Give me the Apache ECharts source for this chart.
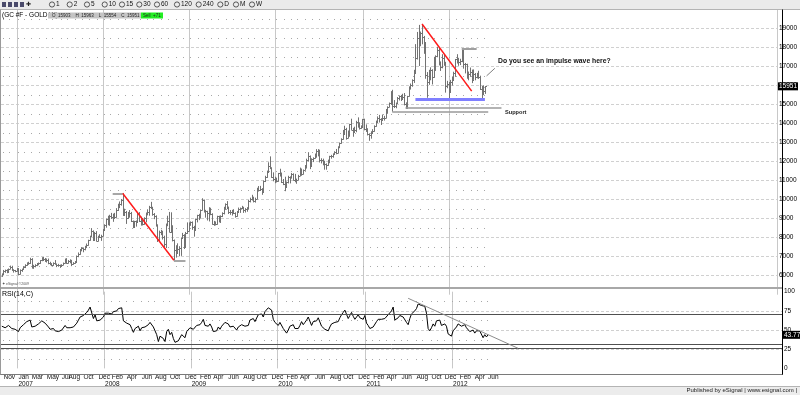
<!DOCTYPE html>
<html><head><meta charset="utf-8">
<script src="https://cdn.jsdelivr.net/npm/echarts@6/dist/echarts.min.js"></script>
<style>html,body{margin:0;padding:0;background:#fff}#c{width:800px;height:395px}</style>
</head><body><div id="c"></div>
<script>
// ---- weekly axis ----
const startDate = '2006-10-27';
const weekCount = 469;
const monthNames = ['Jan','Feb','Mar','Apr','May','Jun','Jul','Aug','Sep','Oct','Nov','Dec'];
const labelMonths = ['2006-11','2007-01','2007-03','2007-05','2007-07','2007-08','2007-10','2007-12',
 '2008-02','2008-04','2008-06','2008-08','2008-10','2008-12','2009-02','2009-04','2009-06','2009-08','2009-10','2009-12',
 '2010-02','2010-04','2010-06','2010-08','2010-10','2010-12','2011-02','2011-04','2011-06','2011-08','2011-10','2011-12',
 '2012-02','2012-04','2012-06'];
const yearLabels = ['2007','2008','2009','2010','2011','2012'];
const priceDotLevels = [6500,7500,8500,9500,10500,11500,12500,13500,14500,15500,16500,17500,18500,19500];
const rsiDotLevels = [87.5,62.5,37.5,12.5];

// ---- GC #F weekly OHLC (price x10 as shown on the axis) ----
const opens = [
5960,6080,6270,6300,6210,6360,6480,6300,6280,6240,
6360,6090,6280,6330,6480,6560,6680,6680,6860,6460,
6530,6560,6640,6660,6800,6940,6900,6790,6850,6680,
6600,6560,6690,6620,6540,6550,6500,6580,6670,6860,
6660,6750,6800,6620,6680,6730,7030,7150,7370,7450,
7390,7520,7630,7860,8070,8350,7860,8260,7840,8010,
8050,8100,8400,8660,8960,8800,9160,9100,9220,9080,
9460,9750,9750,10000,9200,9350,9050,9250,9300,8860,
8550,8850,8800,9300,8890,9000,8700,9050,9300,9350,
9620,9550,9250,9150,8650,7850,8300,8350,8050,7650,
8650,8850,8300,8600,7850,7350,7200,7400,7450,8000,
8150,7520,8250,8350,8700,8800,8550,8400,8980,9200,
9150,9450,10000,9400,9400,9300,9550,9250,8700,8800,
8700,9120,8850,9150,9300,9580,9780,9600,9350,9350,
9400,9300,9120,9370,9500,9550,9580,9460,9520,9550,
9950,10050,10100,9900,10040,10510,10520,10570,10400,10960,
11180,11460,11760,11660,11200,11100,11050,10960,11380,11300,
10920,10820,10650,10920,11200,11180,11340,11020,11040,11050,
11250,11600,11360,11550,11800,12100,12280,11770,12120,12180,
12280,12570,12570,12080,12100,11900,11880,11810,12050,12280,
12280,12370,12480,12450,12750,12980,13180,13460,13720,13260,
13590,13960,13680,13530,13630,14060,13850,13770,13800,14210,
13690,13610,13420,13380,13490,13600,13880,14100,14290,14210,
14190,14290,14290,14740,14860,15050,15560,14910,14920,15090,
15360,15420,15300,15400,15000,14830,15420,15930,16010,16280,
16630,17430,18500,18290,18760,18560,18120,16570,16200,16360,
16830,16420,17460,17550,17880,17240,16970,17460,17120,15980,
16060,15660,16170,16310,16640,17390,17250,17250,17260,17770,
17100,17120,16580,16620,16690,16310,16590,16420,16640,16450,
15800,15920,15903];
const highs = [
6120,6300,6320,6340,6380,6530,6520,6340,6300,6400,
6400,6330,6370,6500,6600,6700,6730,6940,6920,6570,
6600,6660,6690,6820,6970,6980,6930,6900,6900,6730,
6660,6700,6820,6640,6620,6580,6600,6690,6900,6920,
6820,6860,6830,6710,6770,7060,7220,7400,7500,7480,
7570,7690,7890,8100,8500,8380,8300,8340,8100,8180,
8150,8450,8700,9000,9150,9200,9300,9260,9300,9550,
9780,9900,10030,10330,9520,9400,9350,9450,9350,8900,
8880,8900,9350,9340,9100,9030,9070,9320,9460,9670,
9880,9620,9290,9170,8700,8370,8410,8360,8100,8740,
9150,9350,9330,8650,7900,7600,7700,7550,8000,8250,
8180,8300,8800,8800,8850,8850,8620,9000,9200,9250,
9480,10070,10000,9460,9410,9600,9570,9280,8880,8850,
9150,9150,9170,9330,9620,9800,9920,9630,9450,9460,
9480,9330,9400,9580,9580,9670,9620,9550,9600,9980,
10100,10250,10150,10100,10620,10710,10720,10600,11000,11250,
11520,11960,12270,11700,11430,11200,11150,11400,11620,11420,
11080,11200,10950,11250,11220,11400,11380,11350,11100,11300,
11680,11630,11580,11810,12150,12490,12320,12170,12220,12420,
12650,12650,12620,12170,12150,12040,11900,12100,12300,12350,
12430,12540,12660,12800,13000,13220,13660,13880,13770,13630,
13980,14250,13770,13830,14140,14320,14060,13900,14240,14250,
13950,13750,13480,13590,13700,13900,14150,14370,14450,14280,
14470,14400,14760,14900,15100,15700,15770,15230,15100,15390,
15470,15500,15560,15600,15110,15450,15950,16100,16320,16820,
18170,18810,19180,18830,19230,18600,18280,16700,16820,16950,
16850,17500,17580,18030,17990,17260,17640,17630,17240,16240,
16180,16290,16470,16720,17390,17640,17450,17400,17900,17920,
17180,17140,16730,16940,16830,16840,16650,16660,16770,16510,
15970,16000,15963];
const lows = [
5940,6050,6150,6130,6190,6340,6270,6160,6180,6220,
6030,6060,6200,6300,6400,6520,6570,6620,6370,6360,
6440,6500,6550,6620,6760,6770,6740,6690,6600,6550,
6500,6520,6600,6450,6470,6410,6470,6550,6640,6620,
6640,6650,6500,6580,6630,6700,6970,7100,7280,7230,
7330,7450,7580,7840,8050,7820,7830,7800,7800,7980,
7830,8080,8350,8520,8650,8620,8980,8830,8980,9050,
9400,9550,9680,9150,9140,8720,8980,9050,8820,8500,
8520,8580,8780,8820,8630,8640,8680,8800,9170,9150,
9500,9150,8970,8580,7770,7820,8130,7900,7400,7450,
8600,8280,8250,7800,6810,6950,7150,7020,7040,7950,
7400,7500,8200,8330,8620,8410,8050,8350,8800,8920,
9000,9430,9320,9050,8900,8850,9180,8680,8620,8640,
8680,8800,8770,9080,9220,9460,9500,9240,9200,9160,
9240,9050,9100,9300,9300,9500,9300,9320,9360,9500,
9850,9950,9850,9840,10020,10420,10450,10250,10400,10920,
11140,11400,11600,11140,10960,10860,10900,10940,11210,10870,
10760,10440,10620,10850,10850,11100,11000,10910,10830,11030,
11240,11250,11320,11530,11630,12000,11600,11750,11970,12150,
12200,12270,11950,11900,11800,11570,11570,11770,11910,12150,
12200,12360,12380,12430,12700,12940,13150,13430,13150,13220,
13300,13660,13300,13500,13540,13780,13680,13720,13770,13640,
13570,13370,13090,13200,13450,13570,13830,14050,14050,13920,
14150,14150,14270,14510,14850,14980,14620,14810,14800,15080,
15210,15180,15240,14950,14780,14820,15410,15780,15930,16130,
16600,17360,17020,18060,18160,17660,16350,15350,16030,16270,
16050,16400,16760,17480,17050,16760,16900,17030,15620,15850,
15230,15650,15990,16280,16450,17150,17030,17070,17220,16880,
16630,16350,16270,16450,16120,16290,16270,16370,16340,15760,
15270,15490,15554];
const closes = [
6080,6270,6300,6210,6360,6480,6300,6280,6240,6360,
6090,6280,6330,6480,6560,6680,6680,6860,6460,6530,
6560,6640,6660,6800,6940,6900,6790,6850,6680,6600,
6560,6690,6620,6540,6550,6500,6580,6670,6860,6660,
6750,6800,6620,6680,6730,7030,7150,7370,7450,7390,
7520,7630,7860,8070,8350,7860,8260,7840,8010,8050,
8100,8400,8660,8960,8800,9160,9100,9220,9080,9460,
9750,9750,10000,9200,9350,9050,9250,9300,8860,8550,
8850,8800,9300,8890,9000,8700,9050,9300,9350,9620,
9550,9250,9150,8650,7850,8300,8350,8050,7650,8650,
8850,8300,8600,7850,7350,7200,7400,7450,8000,8150,
7520,8250,8350,8700,8800,8550,8400,8980,9200,9150,
9450,10000,9400,9400,9300,9550,9250,8700,8800,8700,
9120,8850,9150,9300,9580,9780,9600,9350,9350,9400,
9300,9120,9370,9500,9550,9580,9460,9520,9550,9950,
10050,10100,9900,10040,10510,10520,10570,10400,10960,11180,
11460,11760,11660,11200,11100,11050,10960,11380,11300,10920,
10820,10650,10920,11200,11180,11340,11020,11040,11050,11250,
11600,11360,11550,11800,12100,12280,11770,12120,12180,12280,
12570,12570,12080,12100,11900,11880,11810,12050,12280,12280,
12370,12480,12450,12750,12980,13180,13460,13720,13260,13590,
13960,13680,13530,13630,14060,13850,13770,13800,14210,13690,
13610,13420,13380,13490,13600,13880,14100,14290,14210,14190,
14290,14290,14740,14860,15050,15560,14910,14920,15090,15360,
15420,15300,15400,15000,14830,15420,15930,16010,16280,16630,
17430,18500,18290,18760,18560,18120,16570,16200,16360,16830,
16420,17460,17550,17880,17240,16970,17460,17120,15980,16060,
15660,16170,16310,16640,17390,17250,17250,17260,17770,17100,
17120,16580,16620,16690,16310,16590,16420,16640,16450,15800,
15920,15720,15951];

// ---- RSI(14,C) weekly ----
const rsi = [
55,54,53,52,56,57,52,52,51,50,
48,53,54,57,59,61,62,63,54,53,
55,56,58,60,62,62,59,57,54,51,
50,52,49,48,48,47,50,52,56,53,
55,53,52,54,56,59,63,67,68,69,
70,73,76,80,81,65,70,62,62,63,
63,67,72,74,72,74,71,74,72,75,
78,78,79,62,60,59,59,57,52,47,
52,53,55,49,53,51,54,56,57,60,
58,54,52,44,35,42,43,39,35,48,
51,44,47,39,34,33,36,37,44,46,
40,48,50,53,54,51,50,56,58,57,
60,64,56,56,55,58,54,48,50,49,
54,51,55,57,60,62,58,54,54,55,
53,50,54,56,57,57,55,56,56,63,
64,65,61,63,70,70,71,67,74,76,
79,81,76,64,60,58,56,60,58,52,
50,46,50,55,54,57,52,52,52,56,
61,57,60,63,67,68,56,61,62,62,
66,66,55,55,51,50,49,54,58,58,
60,62,61,66,70,73,76,78,65,69,
73,68,64,65,70,66,64,64,69,59,
56,52,51,54,56,61,64,66,64,63,
65,65,70,72,75,80,63,63,66,69,
70,67,68,60,57,65,71,72,75,78,
84,84,82,82,81,72,52,49,53,58,
55,62,62,63,56,54,58,55,45,46,
42,49,51,54,58,56,55,55,57,53,
53,48,49,50,46,49,47,49,47,40,
44,41,43.77];

const lastPrice = 15951;
const lastRsi = 43.77;
const quote = {O:'15903', H:'15963', L:'15554', C:'15951', chg:'+71'};

// ---- build axis helpers ----
const categories = [];
const d0 = Date.parse(startDate + 'T00:00:00Z');
for (let i = 0; i < weekCount; i++) categories.push(new Date(d0 + i * 7 * 864e5).toISOString().slice(0, 10));
const monthLabelAt = {};
labelMonths.forEach(m => { const k = categories.findIndex(c => c.startsWith(m)); if (k >= 0) monthLabelAt[k] = monthNames[+m.slice(5, 7) - 1]; });
const yearLabelAt = {};
yearLabels.forEach(y => { const k = categories.findIndex(c => c.startsWith(y)); if (k >= 0) yearLabelAt[k] = y; });
// first week of each month over the data span (for the dotted minor grid)
const monthStarts = [];
for (let i = 1; i < opens.length; i++) if (categories[i].slice(5, 7) !== categories[i - 1].slice(5, 7)) monthStarts.push(i);
const priceDots = [], rsiDots = [];
monthStarts.forEach(k => { priceDotLevels.forEach(v => priceDots.push([k, v])); rsiDotLevels.forEach(v => rsiDots.push([k, v])); });

const ohlc = opens.map((o, i) => [i, o, highs[i], lows[i], closes[i]]);
const FONT = "'Liberation Sans Narrow','Arial Narrow','Liberation Sans',Arial,sans-serif";

function renderOHLC(params, api) {
  const i = api.value(0);
  const pH = api.coord([i, api.value(2)]);
  const pL = api.coord([i, api.value(3)]);
  const pO = api.coord([i, api.value(1)]);
  const pC = api.coord([i, api.value(4)]);
  const x = Math.round(pH[0]) + 0.5;
  const st = {stroke: '#727272', lineWidth: 1};
  return {type: 'group', children: [
    {type: 'line', shape: {x1: x, y1: pH[1], x2: x, y2: pL[1]}, style: st},
    {type: 'line', shape: {x1: x - 1, y1: Math.round(pO[1]) + 0.5, x2: x, y2: Math.round(pO[1]) + 0.5}, style: st},
    {type: 'line', shape: {x1: x, y1: Math.round(pC[1]) + 0.5, x2: x + 1.5, y2: Math.round(pC[1]) + 0.5}, style: st}
  ]};
}
function renderDot(params, api) {
  const p = api.coord([api.value(0), api.value(1)]);
  const bw = api.size([1, 0])[0];
  return {type: 'rect', shape: {x: Math.round(p[0] - bw / 2), y: Math.round(p[1]), width: 1, height: 1}, style: {fill: '#a8a8a8'}};
}

const yearSplit = {show: true, interval: (i) => (i in yearLabelAt), lineStyle: {color: '#c8c8c8', width: 1}};
const axLbl = {fontFamily: FONT, fontSize: 6.5, color: '#000', formatter: (v) => String(v)};
const seg = (a, b, style) => [{coord: a, lineStyle: style}, {coord: b}];
const hidden = 'rgba(0,0,0,0)';

const option = {
  animation: false,
  textStyle: {fontFamily: FONT},
  grid: [
    {left: 1, top: 9.3, width: 781, height: 285.4},
    {left: 1, top: 291.7, width: 781, height: 76.7}
  ],
  xAxis: [
    {type: 'category', gridIndex: 0, data: categories, axisLine: {show: false}, axisTick: {show: false}, axisLabel: {show: false}, splitLine: yearSplit},
    {type: 'category', gridIndex: 1, data: categories, axisLine: {show: false}, axisTick: {show: false},
     axisLabel: {interval: (i) => (i in monthLabelAt), formatter: (v, i) => monthLabelAt[i] || '', align: 'left', margin: 5, fontFamily: FONT, fontSize: 6.5, color: '#111'},
     splitLine: yearSplit},
    {type: 'category', gridIndex: 1, data: categories, position: 'bottom', axisLine: {show: false}, axisTick: {show: false},
     axisLabel: {interval: (i) => (i in yearLabelAt), formatter: (v, i) => yearLabelAt[i] || '', align: 'left', margin: 12, fontFamily: FONT, fontSize: 6.5, color: '#111'},
     splitLine: {show: false}}
  ],
  yAxis: [
    {type: 'value', gridIndex: 0, position: 'right', min: 5000, max: 20000, interval: 1000,
     axisLine: {show: false}, axisTick: {show: false},
     axisLabel: Object.assign({margin: 2, showMinLabel: false, showMaxLabel: false}, axLbl),
     splitLine: {show: true, showMinLine: false, showMaxLine: false, lineStyle: {color: '#d0d0d0', type: [3, 2]}}},
    {type: 'value', gridIndex: 1, position: 'right', min: 0, max: 100, interval: 25,
     axisLine: {show: false}, axisTick: {show: false},
     axisLabel: Object.assign({margin: 2}, axLbl),
     splitLine: {show: true, showMinLine: false, showMaxLine: false, lineStyle: {color: '#d0d0d0', type: [3, 2]}}}
  ],
  series: [
    {type: 'custom', name: 'dots', xAxisIndex: 0, yAxisIndex: 0, data: priceDots, encode: {x: 0, y: 1}, renderItem: renderDot, silent: true, z: 1},
    {type: 'custom', name: 'dotsRsi', xAxisIndex: 1, yAxisIndex: 1, data: rsiDots, encode: {x: 0, y: 1}, renderItem: renderDot, silent: true, z: 1},
    {type: 'custom', name: 'GC', xAxisIndex: 0, yAxisIndex: 0, data: ohlc, encode: {x: 0, y: [1, 2, 3, 4]},
     renderItem: renderOHLC, silent: true, clip: false, z: 3,
     markLine: {silent: true, symbol: ['none', 'none'], animation: false, label: {show: false},
       data: [
         seg([73, 10330], [104, 6810], {color: '#ff1a1a', width: 1.5, type: 'solid'}),
         seg([67, 10330], [73, 10330], {color: '#8a8a8a', width: 1.5, type: 'solid'}),
         seg([104, 6810], [111, 6810], {color: '#8a8a8a', width: 1.5, type: 'solid'}),
         seg([254, 19230], [284, 15700], {color: '#ff1a1a', width: 1.5, type: 'solid'}),
         seg([250, 15270], [292, 15270], {color: '#7f7fff', width: 3, type: 'solid'}),
         seg([278, 17920], [287, 17920], {color: '#a0a0a0', width: 2, type: 'solid'}),
         seg([244, 14800], [302, 14800], {color: '#9a9a9a', width: 1.5, type: 'solid'}),
         seg([236, 14620], [294, 14620], {color: '#9a9a9a', width: 1.5, type: 'solid'}),
         seg([293, 16500], [298, 16900], {color: '#808080', width: 1, type: 'solid'}),
         {yAxis: lastPrice, lineStyle: {color: hidden, width: 1},
          label: {show: true, position: 'end', distance: 1, formatter: String(lastPrice), color: '#fff', backgroundColor: '#000',
                  fontFamily: FONT, fontSize: 6.5, padding: [1, 1, 0, 1]}}
       ]}},
    {type: 'line', name: 'RSI(14,C)', xAxisIndex: 1, yAxisIndex: 1, data: rsi, showSymbol: false, silent: true,
     lineStyle: {color: '#000', width: 1}, z: 3,
     markLine: {silent: true, symbol: ['none', 'none'], animation: false, label: {show: false},
       data: [
         {yAxis: 70, lineStyle: {color: '#505050', width: 1, type: 'solid'}},
         {yAxis: 31.5, lineStyle: {color: '#505050', width: 1, type: 'solid'}},
         {yAxis: 26, lineStyle: {color: '#505050', width: 1, type: 'solid'}},
         seg([244, 91.4], [310, 26.2], {color: '#8c8c8c', width: 1, type: 'solid'}),
         {yAxis: lastRsi, lineStyle: {color: hidden, width: 1},
          label: {show: true, position: 'end', distance: 1, formatter: lastRsi.toFixed(2), color: '#fff', backgroundColor: '#000',
                  fontFamily: FONT, fontSize: 6.5, padding: [1, 1, 0, 1]}}
       ]}}
  ],
  graphic: []
};

// ---- frame / annotations ----
const G = option.graphic;
G.push({type: 'rect', shape: {x: 0, y: 0, width: 800, height: 9}, style: {fill: '#ebebeb'}, z: 100, silent: true});
G.push({type: 'line', shape: {x1: 0, y1: 9.5, x2: 800, y2: 9.5}, style: {stroke: '#b4b4b4', lineWidth: 1}, z: 100, silent: true});
[2, 8, 14, 20].forEach(x => G.push({type: 'rect', shape: {x: x, y: 2, width: 4, height: 5}, style: {fill: '#4a4a6a'}, z: 101, silent: true}));
G.push({type: 'text', x: 26, y: 4.5, style: {text: '✚', fontSize: 6, fill: '#222', verticalAlign: 'middle'}, z: 101, silent: true});
const tb = [['1', 52], ['2', 69.7], ['5', 87], ['10', 104.7], ['15', 122], ['30', 139.3], ['60', 157], ['120', 177], ['240', 198.7], ['D', 220.3], ['M', 236], ['W', 252]];
tb.forEach(([t, x]) => {
  G.push({type: 'circle', shape: {cx: x, cy: 4.5, r: 2.6}, style: {fill: 'none', stroke: '#333', lineWidth: 0.8}, z: 101, silent: true});
  G.push({type: 'text', x: x + 4, y: 4.7, style: {text: t, fontFamily: FONT, fontSize: 6.5, fill: '#111', verticalAlign: 'middle'}, z: 101, silent: true});
});
G.push({type: 'text', x: 2, y: 15.5, style: {text: '(GC #F - GOLD,W)', fontFamily: FONT, fontSize: 6.5, fill: '#000', verticalAlign: 'middle'}, z: 101, silent: true});
G.push({type: 'rect', shape: {x: 48, y: 12.5, width: 93, height: 6}, style: {fill: '#c4c4c4'}, z: 101, silent: true});
G.push({type: 'text', x: 52, y: 15.6, style: {text: 'O  ' + quote.O + '    H  ' + quote.H + '    L  ' + quote.L + '    C  ' + quote.C, fontFamily: FONT, fontSize: 4.5, fill: '#222', verticalAlign: 'middle'}, z: 102, silent: true});
G.push({type: 'rect', shape: {x: 141, y: 12.5, width: 22, height: 6}, style: {fill: '#22ee22'}, z: 101, silent: true});
G.push({type: 'text', x: 143, y: 15.6, style: {text: 'Sell  ' + quote.chg, fontFamily: FONT, fontSize: 4.5, fill: '#222', verticalAlign: 'middle'}, z: 102, silent: true});
G.push({type: 'text', x: 2, y: 284.5, style: {text: '✦ eSignal ©2009', fontFamily: FONT, fontSize: 3.5, fill: '#555', verticalAlign: 'middle'}, z: 101, silent: true});
G.push({type: 'rect', shape: {x: 0, y: 287, width: 783, height: 2}, style: {fill: '#a8a8a8'}, z: 100, silent: true});
G.push({type: 'text', x: 2, y: 294, style: {text: 'RSI(14,C)', fontFamily: FONT, fontSize: 7, fill: '#000', verticalAlign: 'middle'}, z: 101, silent: true});
G.push({type: 'line', shape: {x1: 0, y1: 374.5, x2: 783, y2: 374.5}, style: {stroke: '#7a7a7a', lineWidth: 1}, z: 100, silent: true});
G.push({type: 'line', shape: {x1: 0.5, y1: 9.5, x2: 0.5, y2: 374.5}, style: {stroke: '#9a9a9a', lineWidth: 1}, z: 100, silent: true});
G.push({type: 'line', shape: {x1: 782.5, y1: 9.5, x2: 782.5, y2: 374.5}, style: {stroke: '#000', lineWidth: 1}, z: 100, silent: true});
G.push({type: 'rect', shape: {x: 0, y: 386, width: 800, height: 9}, style: {fill: '#ececec'}, z: 100, silent: true});
G.push({type: 'line', shape: {x1: 0, y1: 386.5, x2: 800, y2: 386.5}, style: {stroke: '#b4b4b4', lineWidth: 1}, z: 100, silent: true});
G.push({type: 'text', x: 797, y: 390.8, style: {text: 'Published by eSignal | www.esignal.com |', fontFamily: FONT, fontSize: 6, fill: '#222', align: 'right', verticalAlign: 'middle'}, z: 101, silent: true});
G.push({type: 'text', x: 498, y: 61, style: {text: 'Do you see an impulse wave here?', fontFamily: FONT, fontSize: 6.8, fontWeight: 'bold', fill: '#111', verticalAlign: 'middle'}, z: 101, silent: true});
G.push({type: 'text', x: 505, y: 112.3, style: {text: 'Support', fontFamily: FONT, fontSize: 5.6, fontWeight: 'bold', fill: '#222', verticalAlign: 'middle'}, z: 101, silent: true});

const chart = echarts.init(document.getElementById('c'), null, {renderer: 'canvas'});
chart.setOption(option);
</script>
</body></html>
